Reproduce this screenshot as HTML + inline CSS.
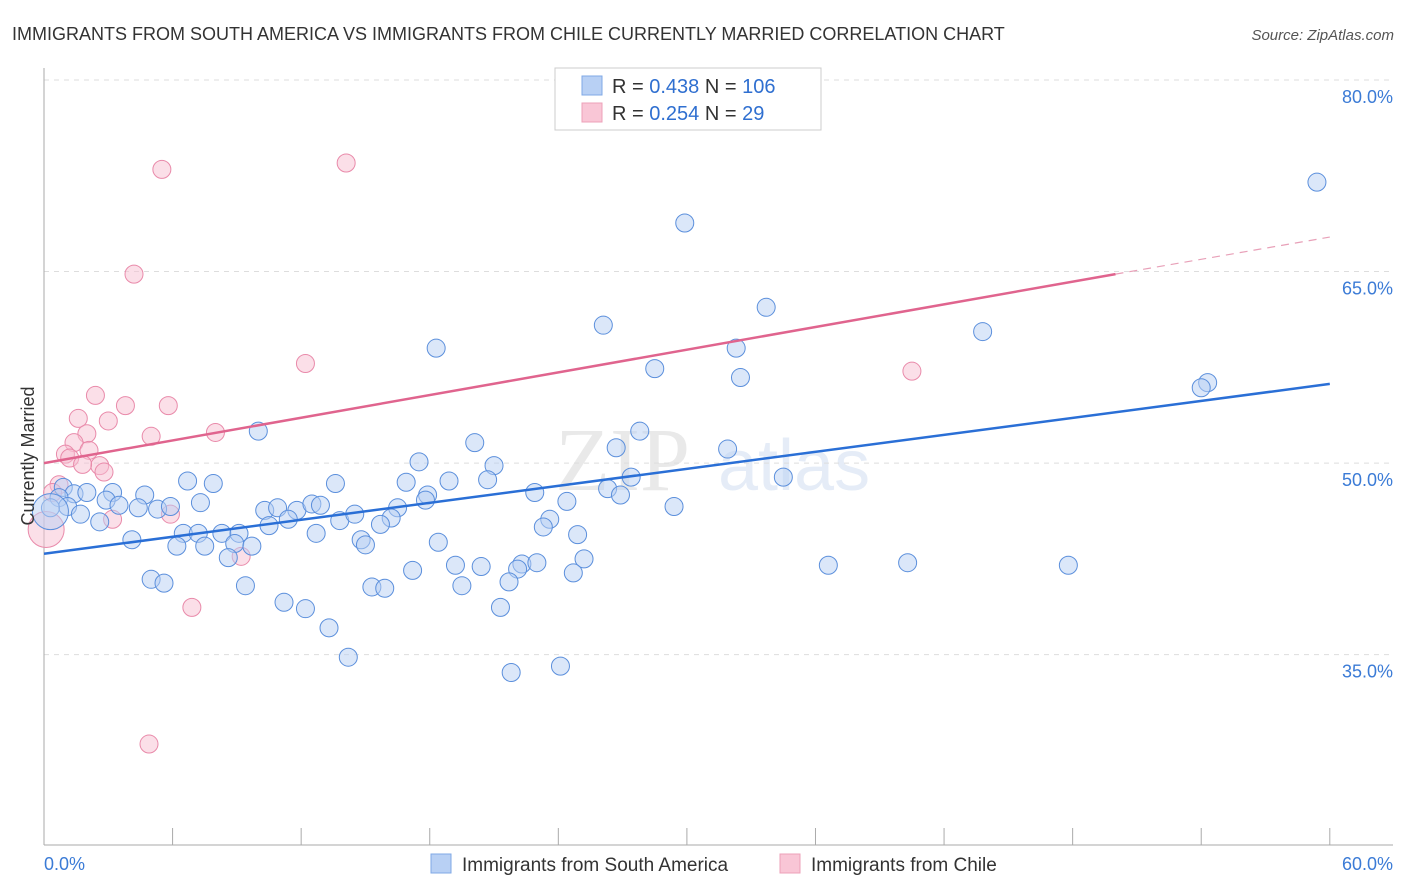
<!DOCTYPE html>
<html><head><meta charset="utf-8"><style>
body{margin:0;background:#fff;font-family:"Liberation Sans",sans-serif;}
</style></head><body>
<svg id="chart" width="1406" height="892" xmlns="http://www.w3.org/2000/svg" style="display:block">
<text x="12" y="40" font-size="18" fill="#333">IMMIGRANTS FROM SOUTH AMERICA VS IMMIGRANTS FROM CHILE CURRENTLY MARRIED CORRELATION CHART</text>
<text x="1394" y="40" font-size="15" fill="#555" font-style="italic" text-anchor="end">Source: ZipAtlas.com</text>
<g opacity="0.25">
<text x="555" y="490" font-size="90" fill="#aaa" font-family="Liberation Serif,serif">ZIP</text>
<text x="718" y="490" font-size="72" fill="#9ab8e0">atlas</text>
</g>
<g id="grid"></g>
<g id="axes"></g>
<g id="marks"></g>
<text transform="translate(34,456) rotate(-90)" font-size="18" fill="#333" text-anchor="middle">Currently Married</text>
<g>
<rect x="555" y="68" width="266" height="62" fill="#fff" stroke="#ccc"/>
<rect x="582" y="76" width="20" height="19" fill="#b8d0f4" stroke="#7fa8e6"/>
<rect x="582" y="103" width="20" height="19" fill="#f9c6d6" stroke="#eda0b8"/>
<text x="612" y="93" font-size="20" fill="#333">R = <tspan fill="#2f6fd0">0.438</tspan>   N = <tspan fill="#2f6fd0">106</tspan></text>
<text x="612" y="120" font-size="20" fill="#333">R = <tspan fill="#2f6fd0">0.254</tspan>   N =   <tspan fill="#2f6fd0">29</tspan></text>
</g>
<g>
<rect x="431" y="854" width="20" height="19" fill="#b8d0f4" stroke="#7fa8e6"/>
<text x="462" y="871" font-size="19" fill="#333">Immigrants from South America</text>
<rect x="780" y="854" width="20" height="19" fill="#f9c6d6" stroke="#eda0b8"/>
<text x="811" y="871" font-size="19" fill="#333">Immigrants from Chile</text>
</g>
</svg>
<script>
const yTicks=[80,65,50,35];
const yTickLabels=["80.0%","65.0%","50.0%","35.0%"];
const xTicks=[0,6,12,18,24,30,36,42,48,54,60];
const xEndLabels=["0.0%","60.0%"];
const blueX=[59.4,29.9,33.7,26.1,43.8,18.3,32.3,28.5,32.5,54.3,54.0,10.0,27.8,20.1,26.7,31.9,17.5,21.0,34.5,6.7,7.9,13.6,16.9,18.9,20.7,27.4,26.3,26.9,0.9,1.4,2.0,3.2,4.7,2.9,3.5,4.4,0.7,1.1,0.3,1.7,2.6,5.3,5.9,7.3,17.9,17.8,22.9,24.4,29.4,10.3,10.9,11.8,12.5,12.9,11.4,10.5,13.8,14.5,16.5,16.2,15.7,12.7,6.5,7.2,8.3,9.1,23.6,23.3,24.9,4.1,6.2,7.5,8.9,9.7,14.8,15.0,18.4,8.6,25.2,19.2,20.4,22.3,23.0,22.1,17.2,24.7,36.6,40.3,47.8,5.0,5.6,9.4,15.3,15.9,19.5,21.7,11.2,12.2,21.3,13.3,14.2,24.1,21.8,0.3];
const blueY=[72.0,68.8,62.2,60.8,60.3,59.0,59.0,57.4,56.7,56.3,55.9,52.5,52.5,51.6,51.2,51.1,50.1,49.8,48.9,48.6,48.4,48.4,48.5,48.6,48.7,48.9,48.0,47.5,48.1,47.6,47.7,47.7,47.5,47.1,46.7,46.5,47.3,46.6,46.5,46.0,45.4,46.4,46.6,46.9,47.5,47.1,47.7,47.0,46.6,46.3,46.5,46.3,46.8,46.7,45.6,45.1,45.5,46.0,46.5,45.7,45.2,44.5,44.5,44.5,44.5,44.5,45.6,45.0,44.4,44.0,43.5,43.5,43.7,43.5,44.0,43.6,43.8,42.6,42.5,42.0,41.9,42.1,42.2,41.7,41.6,41.4,42.0,42.2,42.0,40.9,40.6,40.4,40.3,40.2,40.4,40.7,39.1,38.6,38.7,37.1,34.8,34.1,33.6,46.2];
const pinkX=[5.5,14.1,4.2,12.2,2.4,3.8,5.8,1.6,3.0,2.0,5.0,8.0,1.4,1.0,1.2,2.1,2.6,2.8,1.8,0.7,0.4,5.9,3.2,9.2,6.9,4.9,40.5,0.1];
const pinkY=[73.0,73.5,64.8,57.8,55.3,54.5,54.5,53.5,53.3,52.3,52.1,52.4,51.6,50.7,50.4,51.0,49.8,49.3,49.9,48.3,47.7,46.0,45.6,42.7,38.7,28.0,57.2,44.8];
const blueTrend=[[0,42.9],[60,56.2]];
const pinkTrend=[[0,50.0],[50,64.8],[60,67.7]];
const NS="http://www.w3.org/2000/svg";
const xs=v=>44+v*21.43;
const ys=v=>80+(80-v)*12.77;
function mk(t,a,p){const e=document.createElementNS(NS,t);for(const k in a)e.setAttribute(k,a[k]);p.appendChild(e);return e;}
const grid=document.getElementById('grid'),axes=document.getElementById('axes'),marks=document.getElementById('marks');
yTicks.forEach((v,i)=>{
 const g=mk('line',{x1:44,x2:1393,y1:ys(v),y2:ys(v),stroke:'#ddd','stroke-dasharray':'5,5'},grid);
 
 
 const t=mk('text',{x:1393,y:ys(v)+23,'font-size':18,fill:'#3b7bd6','text-anchor':'end'},axes);
 t.textContent=yTickLabels[i];
 
 
});
const ax=mk('line',{x1:44,x2:44,y1:68,y2:845,stroke:'#aaa'},axes);


const bx=mk('line',{x1:44,x2:1393,y1:845,y2:845,stroke:'#aaa'},axes);


xTicks.forEach(v=>{
 const t=mk('line',{x1:xs(v),x2:xs(v),y1:828,y2:845,stroke:'#aaa'},axes);
 
 
});
[[0,'start'],[60,'end']].forEach((d,i)=>{
 const t=mk('text',{x:i?1393:44,y:870,'font-size':18,fill:'#3b7bd6','text-anchor':d[1]},axes);
 t.textContent=xEndLabels[i];
 
 
});
function dots(X,Y,fill,stroke,name){
 X.forEach((x,i)=>{
  const big=(i===X.length-1);
  const c=mk('circle',{cx:xs(x),cy:ys(Y[i]),r:big?18:9,fill:fill,'fill-opacity':0.5,stroke:stroke,'stroke-width':1},marks);
  
  
 });
}
dots(pinkX,pinkY,'#f8bfd2','#e98aaa','chile-point');
dots(blueX,blueY,'#b8d0f4','#5b8fdc','south-america-point');
const bl=mk('line',{x1:xs(blueTrend[0][0]),y1:ys(blueTrend[0][1]),x2:xs(blueTrend[1][0]),y2:ys(blueTrend[1][1]),stroke:'#2a6fd6','stroke-width':2.5},marks);


const pl=mk('line',{x1:xs(pinkTrend[0][0]),y1:ys(pinkTrend[0][1]),x2:xs(pinkTrend[1][0]),y2:ys(pinkTrend[1][1]),stroke:'#e0648e','stroke-width':2.5},marks);


const pd=mk('line',{x1:xs(pinkTrend[1][0]),y1:ys(pinkTrend[1][1]),x2:xs(pinkTrend[2][0]),y2:ys(pinkTrend[2][1]),stroke:'#e8a0b8','stroke-width':1.2,'stroke-dasharray':'8,6'},marks);


</script>
</body></html>
